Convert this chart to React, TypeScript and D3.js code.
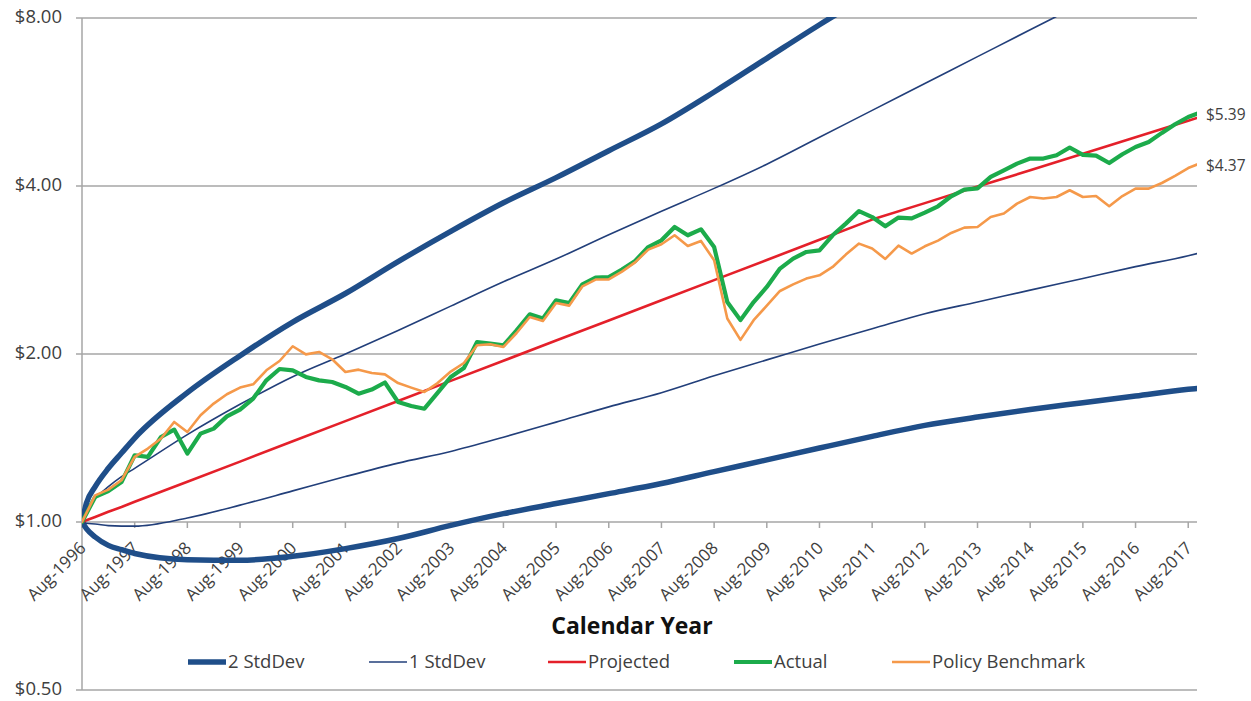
import React from 'react';
import * as d3 from 'd3';

// sample months (offset from Aug-1996) for the smooth projection bands
const bandMonths = [0, 1, 3, 6, 9, 12, 24, 36, 48, 60, 72, 84, 96, 108, 120, 132, 144, 156, 168, 180, 192, 204, 216, 228, 240, 252, 254];

const projected = [1.0, 1.007, 1.021, 1.043, 1.064, 1.087, 1.181, 1.283, 1.395, 1.516, 1.647, 1.79, 1.945, 2.114, 2.297, 2.497, 2.713, 2.948, 3.204, 3.482, 3.727, 3.99, 4.269, 4.569, 4.891, 5.235, 5.296];
const upper2 = [1.0, 1.08, 1.157, 1.248, 1.329, 1.414, 1.705, 1.986, 2.282, 2.567, 2.928, 3.317, 3.732, 4.141, 4.627, 5.169, 5.896, 6.774, 7.781, 8.877];
const upper1 = [1.0, 1.05, 1.102, 1.157, 1.206, 1.248, 1.434, 1.625, 1.821, 2.0, 2.204, 2.437, 2.694, 2.959, 3.272, 3.605, 3.961, 4.377, 4.891, 5.464, 6.105, 6.821, 7.621, 8.514, 9.514];
const lower1 = [1.0, 0.995, 0.992, 0.985, 0.983, 0.983, 1.017, 1.072, 1.137, 1.206, 1.275, 1.338, 1.419, 1.51, 1.608, 1.705, 1.828, 1.952, 2.085, 2.219, 2.362, 2.479, 2.603, 2.732, 2.868, 3.0, 3.027];
const lower2 = [1.0, 0.973, 0.94, 0.908, 0.892, 0.878, 0.856, 0.854, 0.868, 0.896, 0.934, 0.986, 1.035, 1.079, 1.124, 1.172, 1.231, 1.292, 1.357, 1.424, 1.49, 1.542, 1.591, 1.636, 1.682, 1.729, 1.735];

// quarterly samples for actual / benchmark, last point Oct-2017
const seriesMonths = d3.range(0, 253, 3).concat([254]);

const actual = [
  1.0, 1.109, 1.136, 1.179, 1.317, 1.308, 1.42, 1.464, 1.326, 1.44,
  1.47, 1.546, 1.59, 1.664, 1.794, 1.88, 1.87, 1.819, 1.794, 1.782,
  1.746, 1.698, 1.727, 1.778, 1.641, 1.614, 1.596, 1.703, 1.819, 1.888,
  2.101, 2.088, 2.073, 2.205, 2.356, 2.315, 2.496, 2.469, 2.666, 2.741,
  2.748, 2.833, 2.936, 3.11, 3.197, 3.378, 3.264, 3.345, 3.11, 2.478,
  2.3, 2.478, 2.637, 2.845, 2.965, 3.047, 3.068, 3.264, 3.425, 3.607,
  3.519, 3.387, 3.511, 3.5, 3.585, 3.679, 3.834, 3.941, 3.962, 4.152,
  4.267, 4.387, 4.479, 4.479, 4.54, 4.688, 4.547, 4.535, 4.398, 4.56,
  4.699, 4.797, 4.98, 5.16, 5.318, 5.39,
];

const benchmark = [
  1.0, 1.116, 1.143, 1.188, 1.308, 1.354, 1.411, 1.511, 1.45, 1.553,
  1.63, 1.694, 1.741, 1.765, 1.87, 1.943, 2.065, 1.997, 2.017, 1.957,
  1.857, 1.875, 1.849, 1.839, 1.774, 1.741, 1.71, 1.774, 1.86, 1.927,
  2.073, 2.082, 2.059, 2.181, 2.33, 2.292, 2.469, 2.442, 2.644, 2.719,
  2.72, 2.81, 2.919, 3.077, 3.145, 3.264, 3.123, 3.189, 2.944, 2.315,
  2.12, 2.299, 2.442, 2.594, 2.666, 2.73, 2.767, 2.864, 3.014, 3.154,
  3.09, 2.961, 3.128, 3.027, 3.119, 3.193, 3.295, 3.369, 3.378, 3.519,
  3.57, 3.72, 3.823, 3.798, 3.823, 3.93, 3.823, 3.838, 3.679, 3.838,
  3.957, 3.957, 4.05, 4.17, 4.308, 4.37,
];

const tickYears = d3.range(1996, 2018);
const yTicks = [0.5, 1, 2, 4, 8];

const C = {
  sd2: '#1f4e89',
  sd1: '#223f7a',
  proj: '#e4202a',
  act: '#1cab4b',
  bench: '#f5994a',
  grid: '#a6a6a6',
  text: '#404040',
};

const legendItems = [
  { name: '2 StdDev', color: C.sd2, width: 5.5, x: 188 },
  { name: '1 StdDev', color: C.sd1, width: 1.6, x: 369 },
  { name: 'Projected', color: C.proj, width: 2.6, x: 548 },
  { name: 'Actual', color: C.act, width: 4.2, x: 734 },
  { name: 'Policy Benchmark', color: C.bench, width: 2.6, x: 892 },
];

const FONT = "'Open Sans', Lato, sans-serif";

export default function App() {
  const x = d3.scaleLinear().domain([0, 254]).range([82, 1197]);
  const y = d3.scaleLog().base(2).domain([0.5, 8]).range([690, 18]);

  const path = (months: number[], vals: number[], curve: d3.CurveFactory) =>
    d3
      .line<number>()
      .x((_, i) => x(months[i]))
      .y((d) => y(d))
      .curve(curve)(vals) || '';

  const [x0, x1] = x.range();
  const axisY = y(1);
  const fmt = d3.format('$.2f');

  return (
    <div>
      <svg
        width={1251}
        height={701}
        style={{ position: 'absolute', left: 0, top: 0, background: '#fff' }}
        fontFamily={FONT}
      >
        <defs>
          <clipPath id="plot">
            <rect x={x0} y={y(8) - 1} width={x1 - x0} height={y(0.5) - y(8) + 1} />
          </clipPath>
        </defs>

        {/* gridlines */}
        {yTicks.map((t) => (
          <g key={t}>
            <line x1={x0 - 6} x2={x1} y1={y(t)} y2={y(t)} stroke={C.grid} strokeWidth={1.5} />
            <text
              x={62}
              y={y(t)}
              textAnchor="end"
              dominantBaseline="middle"
              fontSize={18.5}
              fill={C.text}
            >
              {fmt(t)}
            </text>
          </g>
        ))}
        <line x1={x0} x2={x0} y1={y(8)} y2={y(0.5)} stroke={C.grid} strokeWidth={1.5} />

        {/* x ticks on the $1 line */}
        {tickYears.map((yr) => {
          const tx = x((yr - 1996) * 12);
          return (
            <g key={yr}>
              <line x1={tx} x2={tx} y1={axisY} y2={axisY + 6} stroke={C.grid} strokeWidth={1.5} />
              <text
                transform={`translate(${tx + 5},${axisY + 27}) rotate(-45)`}
                textAnchor="end"
                fontSize={17}
                fill={C.text}
              >
                {`Aug-${yr}`}
              </text>
            </g>
          );
        })}

        <g clipPath="url(#plot)" fill="none" strokeLinejoin="round" strokeLinecap="round">
          <path d={path(bandMonths, upper2, d3.curveMonotoneX)} stroke={C.sd2} strokeWidth={5.5} />
          <path d={path(bandMonths, lower2, d3.curveMonotoneX)} stroke={C.sd2} strokeWidth={5.5} />
          <path d={path(bandMonths, upper1, d3.curveMonotoneX)} stroke={C.sd1} strokeWidth={1.6} />
          <path d={path(bandMonths, lower1, d3.curveMonotoneX)} stroke={C.sd1} strokeWidth={1.6} />
          <path d={path(bandMonths, projected, d3.curveLinear)} stroke={C.proj} strokeWidth={2.6} />
          <path d={path(seriesMonths, actual, d3.curveLinear)} stroke={C.act} strokeWidth={4.2} />
          <path d={path(seriesMonths, benchmark, d3.curveLinear)} stroke={C.bench} strokeWidth={2.6} />
        </g>

        {/* end value labels */}
        <text x={x(254) + 9} y={y(actual[actual.length - 1]) + 2} dominantBaseline="middle" fontSize={15.5} fill={C.text}>
          {fmt(actual[actual.length - 1])}
        </text>
        <text x={x(254) + 9} y={y(benchmark[benchmark.length - 1]) + 2} dominantBaseline="middle" fontSize={15.5} fill={C.text}>
          {fmt(benchmark[benchmark.length - 1])}
        </text>

        <text x={632} y={634} textAnchor="middle" fontSize={23} fontWeight="bold" fill="#111">
          Calendar Year
        </text>

        {/* legend */}
        {legendItems.map((it) => (
          <g key={it.name} transform={`translate(${it.x},662)`}>
            <line x1={0} x2={38} y1={0} y2={0} stroke={it.color} strokeWidth={it.width} />
            <text x={40} y={1} dominantBaseline="middle" fontSize={18.5} fill={C.text}>
              {it.name}
            </text>
          </g>
        ))}
      </svg>
    </div>
  );
}
